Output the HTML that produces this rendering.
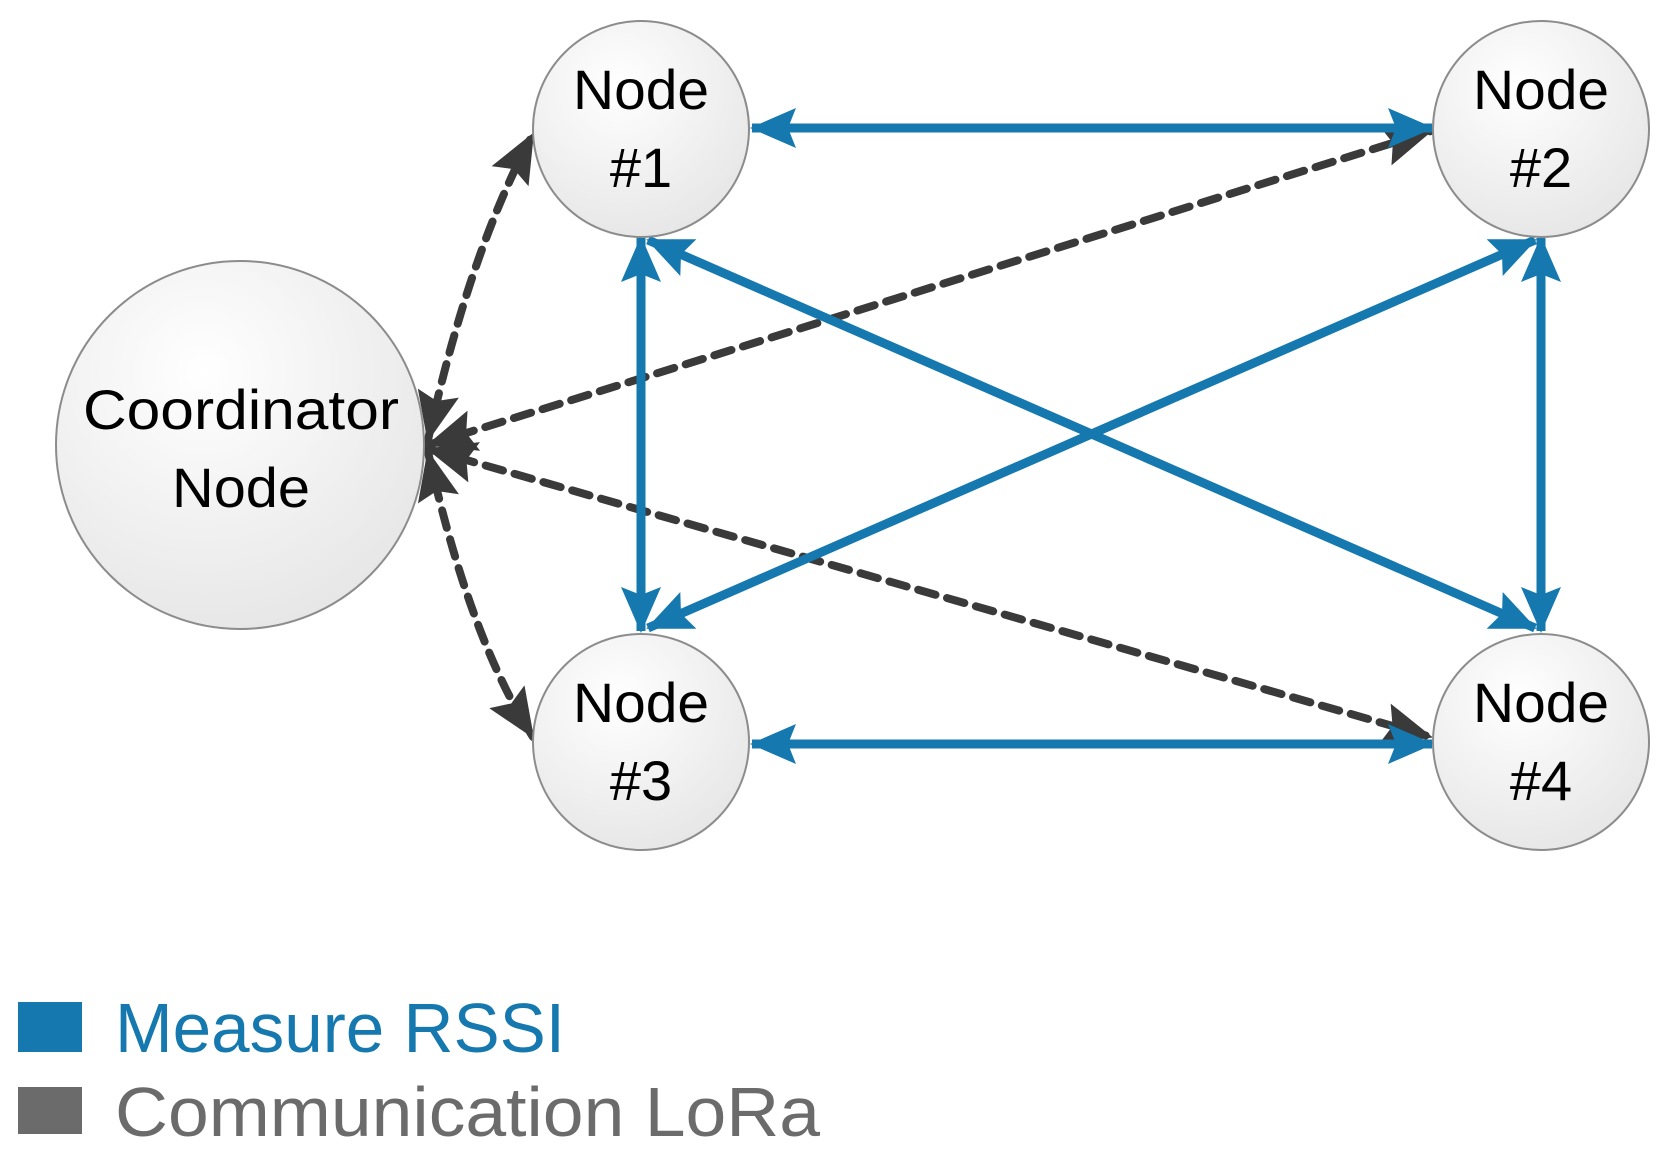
<!DOCTYPE html>
<html><head><meta charset="utf-8"><style>html,body{margin:0;padding:0;background:#fff}svg{display:block}</style></head>
<body>
<svg width="1674" height="1166" viewBox="0 0 1674 1166" xmlns="http://www.w3.org/2000/svg">
<defs>
<radialGradient id="g" cx="0.4" cy="0.3" r="0.8">
<stop offset="0" stop-color="#ffffff"/><stop offset="1" stop-color="#e4e4e4"/>
</radialGradient>
<marker id="b" markerUnits="userSpaceOnUse" viewBox="0 0 46 40" refX="44" refY="20" markerWidth="46" markerHeight="40" orient="auto-start-reverse">
<path d="M0,0 L46,20 L0,40 L8,20 Z" fill="#1578ae"/>
</marker>
<marker id="d" markerUnits="userSpaceOnUse" viewBox="0 0 50 42" refX="48" refY="21" markerWidth="50" markerHeight="42" orient="auto-start-reverse">
<path d="M0,0 L50,21 L0,42 L8,21 Z" fill="#3a3a3a"/>
</marker>
</defs>
<g stroke="#3a3a3a" stroke-width="8" stroke-dasharray="18,12" stroke-linecap="round" fill="none" marker-start="url(#d)" marker-end="url(#d)">
<path d="M428,440 Q470,250 533,134"/>
<line x1="428" y1="445" x2="1431" y2="131"/>
<path d="M428,452 Q470,640 533,737"/>
<line x1="428" y1="449" x2="1431" y2="737"/>
</g>
<g stroke="#1578ae" stroke-width="9" fill="none" marker-start="url(#b)" marker-end="url(#b)">
<line x1="752" y1="128" x2="1432" y2="128"/>
<line x1="752" y1="744" x2="1432" y2="744"/>
<line x1="641" y1="238" x2="641" y2="631"/>
<line x1="1541" y1="238" x2="1541" y2="631"/>
<line x1="648" y1="240" x2="1535" y2="628"/>
<line x1="648" y1="628" x2="1535" y2="240"/>
</g>
<g fill="url(#g)" stroke="#8c8c8c" stroke-width="2">
<circle cx="240" cy="445" r="184"/>
<circle cx="641" cy="129" r="108"/>
<circle cx="1541" cy="129" r="108"/>
<circle cx="641" cy="742" r="108"/>
<circle cx="1541" cy="742" r="108"/>
</g>
<g font-family="Liberation Sans, sans-serif" font-size="56" fill="#000" text-anchor="middle">
<text x="241" y="429" textLength="316" lengthAdjust="spacingAndGlyphs">Coordinator</text>
<text x="241" y="507" textLength="138" lengthAdjust="spacingAndGlyphs">Node</text>
<text x="641" y="109" textLength="136" lengthAdjust="spacingAndGlyphs">Node</text><text x="641" y="187">#1</text>
<text x="1541" y="109" textLength="136" lengthAdjust="spacingAndGlyphs">Node</text><text x="1541" y="187">#2</text>
<text x="641" y="722" textLength="136" lengthAdjust="spacingAndGlyphs">Node</text><text x="641" y="800">#3</text>
<text x="1541" y="722" textLength="136" lengthAdjust="spacingAndGlyphs">Node</text><text x="1541" y="800">#4</text>
</g>
<rect x="18" y="1002" width="64" height="50" fill="#1578ae"/>
<rect x="18" y="1087" width="64" height="47" fill="#6b6b6b"/>
<g font-family="Liberation Sans, sans-serif" font-size="70">
<text x="115" y="1052" fill="#1578ae" textLength="450" lengthAdjust="spacingAndGlyphs">Measure RSSI</text>
<text x="115" y="1136" fill="#6b6b6b" textLength="705" lengthAdjust="spacingAndGlyphs">Communication LoRa</text>
</g>
</svg>
</body></html>
